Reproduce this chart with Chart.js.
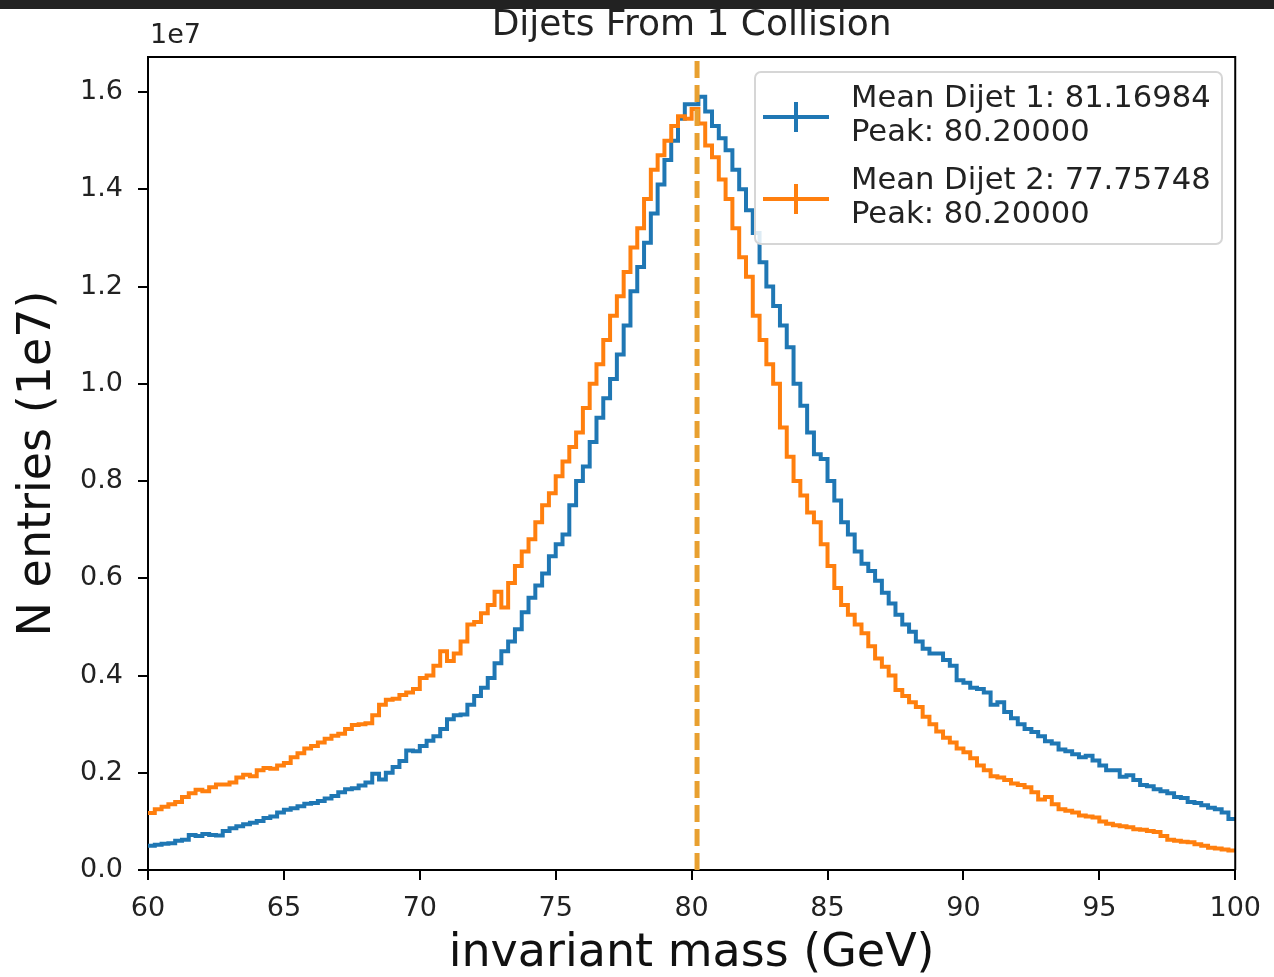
<!DOCTYPE html>
<html>
<head>
<meta charset="utf-8">
<script src="https://cdn.jsdelivr.net/npm/chart.js@4.4.0/dist/chart.umd.min.js"></script>
<style>
  html, body { margin: 0; padding: 0; background: #fff; }
  #bar { position: absolute; left: 0; top: 0; width: 1274px; height: 9px; background: #222; z-index: 2; }
</style>
</head>
<body>
<div id="bar"></div>
<canvas id="massChart" width="1274" height="977"></canvas>
<script>
// histogram bins: 0.25 GeV wide, starting at 60 GeV (values in units of 1e7)
const binStart = 60;
const binWidth = 0.25;

const dijet1Counts = [
  0.050, 0.052, 0.054, 0.055, 0.060, 0.062, 0.072, 0.070,
  0.074, 0.072, 0.071, 0.080, 0.086, 0.090, 0.094, 0.097,
  0.101, 0.107, 0.110, 0.118, 0.124, 0.127, 0.131, 0.136,
  0.138, 0.142, 0.147, 0.152, 0.160, 0.166, 0.168, 0.174,
  0.180, 0.198, 0.186, 0.200, 0.212, 0.224, 0.246, 0.244,
  0.255, 0.266, 0.275, 0.290, 0.310, 0.318, 0.320, 0.340,
  0.358, 0.375, 0.395, 0.425, 0.450, 0.470, 0.495, 0.530,
  0.560, 0.585, 0.610, 0.645, 0.670, 0.690, 0.750, 0.800,
  0.830, 0.880, 0.930, 0.970, 1.010, 1.060, 1.120, 1.190,
  1.240, 1.290, 1.350, 1.410, 1.460, 1.500, 1.545, 1.575,
  1.575, 1.590, 1.560, 1.530, 1.505, 1.480, 1.440, 1.400,
  1.357, 1.310, 1.250, 1.200, 1.160, 1.120, 1.075, 1.000,
  0.955, 0.900, 0.855, 0.845, 0.800, 0.760, 0.715, 0.690,
  0.655, 0.630, 0.615, 0.595, 0.570, 0.548, 0.525, 0.505,
  0.490, 0.470, 0.455, 0.445, 0.445, 0.432, 0.420, 0.390,
  0.385, 0.375, 0.372, 0.365, 0.340, 0.345, 0.325, 0.312,
  0.300, 0.290, 0.284, 0.275, 0.265, 0.260, 0.248, 0.244,
  0.238, 0.232, 0.235, 0.225, 0.215, 0.205, 0.205, 0.192,
  0.195, 0.185, 0.175, 0.172, 0.166, 0.162, 0.158, 0.150,
  0.148, 0.140, 0.138, 0.133, 0.128, 0.125, 0.118, 0.105
];

const dijet2Counts = [
  0.117, 0.125, 0.130, 0.135, 0.140, 0.150, 0.158, 0.165,
  0.162, 0.170, 0.176, 0.176, 0.180, 0.190, 0.196, 0.193,
  0.205, 0.210, 0.208, 0.215, 0.220, 0.232, 0.240, 0.250,
  0.255, 0.262, 0.270, 0.276, 0.280, 0.290, 0.298, 0.300,
  0.302, 0.318, 0.340, 0.350, 0.352, 0.360, 0.365, 0.372,
  0.395, 0.400, 0.420, 0.450, 0.430, 0.445, 0.470, 0.505,
  0.510, 0.528, 0.545, 0.572, 0.540, 0.590, 0.625, 0.655,
  0.680, 0.715, 0.750, 0.775, 0.810, 0.840, 0.870, 0.900,
  0.950, 1.000, 1.040, 1.090, 1.140, 1.180, 1.230, 1.280,
  1.320, 1.380, 1.440, 1.470, 1.500, 1.530, 1.550, 1.545,
  1.565, 1.535, 1.490, 1.466, 1.420, 1.380, 1.320, 1.260,
  1.220, 1.140, 1.090, 1.040, 1.000, 0.910, 0.850, 0.800,
  0.770, 0.735, 0.715, 0.670, 0.625, 0.580, 0.545, 0.525,
  0.505, 0.487, 0.460, 0.435, 0.418, 0.400, 0.370, 0.358,
  0.345, 0.335, 0.315, 0.300, 0.285, 0.272, 0.262, 0.250,
  0.242, 0.230, 0.215, 0.205, 0.193, 0.190, 0.185, 0.178,
  0.175, 0.170, 0.160, 0.145, 0.150, 0.135, 0.125, 0.122,
  0.118, 0.112, 0.110, 0.108, 0.100, 0.095, 0.092, 0.090,
  0.088, 0.084, 0.083, 0.080, 0.078, 0.070, 0.062, 0.060,
  0.058, 0.057, 0.053, 0.050, 0.046, 0.044, 0.042, 0.040
];

const peakMass = 80.2;
const chartTitle = 'Dijets From 1 Collision';
const seriesLabels = [
  ['Mean Dijet 1: 81.16984', 'Peak: 80.20000'],
  ['Mean Dijet 2: 77.75748', 'Peak: 80.20000']
];
const xTicks = [60, 65, 70, 75, 80, 85, 90, 95, 100];
const yTicks = [0, 0.2, 0.4, 0.6, 0.8, 1.0, 1.2, 1.4, 1.6];
const yMax = 1.672;

const FONT = 'DejaVu Sans';
const BLUE = '#1f77b4';
const ORANGE = '#ff7f0e';

function toSteps(values) {
  const pts = values.map((v, i) => ({ x: binStart + i * binWidth, y: v }));
  pts.push({ x: binStart + values.length * binWidth, y: values[values.length - 1] });
  return pts;
}

// title over the axes, frame, "1e7" offset text and legend box
const extras = {
  id: 'extras',
  afterDraw(chart) {
    const { ctx, chartArea: a } = chart;
    ctx.save();
    ctx.strokeStyle = '#000';
    ctx.lineWidth = 2;
    ctx.beginPath();
    ctx.moveTo(a.left, a.top);
    ctx.lineTo(a.right, a.top);
    ctx.lineTo(a.right, a.bottom);
    ctx.stroke();

    ctx.fillStyle = '#222';
    ctx.font = '36px "' + FONT + '"';
    ctx.textAlign = 'center';
    ctx.textBaseline = 'middle';
    ctx.fillText(chartTitle, (a.left + a.right) / 2, 26);

    ctx.font = '27px "' + FONT + '"';
    ctx.textAlign = 'left';
    ctx.fillText('1e7', a.left + 2, a.top - 21);

    // legend
    const bx = 755, by = 72, bw = 467, bh = 172;
    ctx.fillStyle = 'rgba(255,255,255,0.85)';
    ctx.strokeStyle = '#d6d6d6';
    ctx.lineWidth = 2;
    ctx.beginPath();
    ctx.roundRect(bx, by, bw, bh, 6);
    ctx.fill();
    ctx.stroke();

    const items = [
      { color: BLUE, lines: seriesLabels[0], y: 117 },
      { color: ORANGE, lines: seriesLabels[1], y: 199 }
    ];
    ctx.font = '30.6px "' + FONT + '"';
    ctx.fillStyle = '#222';
    items.forEach(it => {
      ctx.strokeStyle = it.color;
      ctx.lineWidth = 4;
      ctx.beginPath();
      ctx.moveTo(763, it.y);
      ctx.lineTo(829, it.y);
      ctx.moveTo(796, it.y - 15);
      ctx.lineTo(796, it.y + 15);
      ctx.stroke();
      ctx.fillText(it.lines[0], 851, it.y - 18);
      ctx.fillText(it.lines[1], 851, it.y + 16);
    });
    ctx.restore();
  }
};

new Chart(document.getElementById('massChart'), {
  type: 'line',
  data: {
    datasets: [
      {
        label: 'Peak',
        data: [{ x: peakMass, y: 0 }, { x: peakMass, y: yMax }],
        borderColor: 'rgb(232,160,48)',
        borderWidth: 5,
        borderDash: [17, 7],
        pointRadius: 0,
        order: 0
      },
      {
        label: seriesLabels[1].join('\n'),
        data: toSteps(dijet2Counts),
        borderColor: ORANGE,
        borderWidth: 4,
        stepped: true,
        pointRadius: 0,
        fill: false,
        order: 1
      },
      {
        label: seriesLabels[0].join('\n'),
        data: toSteps(dijet1Counts),
        borderColor: BLUE,
        borderWidth: 4,
        stepped: true,
        pointRadius: 0,
        fill: false,
        order: 2
      }
    ]
  },
  options: {
    responsive: false,
    animation: false,
    devicePixelRatio: 1,
    layout: { padding: { left: 0, right: 36, top: 57, bottom: 0 } },
    plugins: {
      legend: { display: false },
      tooltip: { enabled: false },
      title: { display: false }
    },
    scales: {
      x: {
        type: 'linear',
        min: 60,
        max: 100,
        afterBuildTicks: s => { s.ticks = xTicks.map(v => ({ value: v })); },
        afterFit: s => { s.height = 107; },
        ticks: {
          color: '#222',
          padding: 13,
          maxRotation: 0,
          font: { family: FONT, size: 27 },
          callback: v => String(v)
        },
        grid: { drawOnChartArea: false, drawTicks: true, tickLength: 10, color: '#000', lineWidth: 2 },
        border: { display: true, color: '#000', width: 2 },
        title: {
          display: true,
          text: 'invariant mass (GeV)',
          color: '#111',
          font: { family: FONT, size: 46, lineHeight: 1 },
          padding: { top: 0, bottom: 0 }
        }
      },
      y: {
        min: 0,
        max: yMax,
        afterBuildTicks: s => { s.ticks = yTicks.map(v => ({ value: v })); },
        afterFit: s => { s.width = 148; },
        ticks: {
          color: '#222',
          padding: 15,
          font: { family: FONT, size: 27 },
          callback: v => v.toFixed(1)
        },
        grid: { drawOnChartArea: false, drawTicks: true, tickLength: 10, color: '#000', lineWidth: 2 },
        border: { display: true, color: '#000', width: 2 },
        title: {
          display: true,
          text: 'N entries (1e7)',
          color: '#111',
          font: { family: FONT, size: 46, lineHeight: 1 },
          padding: { top: 15, bottom: 0 }
        }
      }
    }
  },
  plugins: [extras]
});
</script>
</body>
</html>
